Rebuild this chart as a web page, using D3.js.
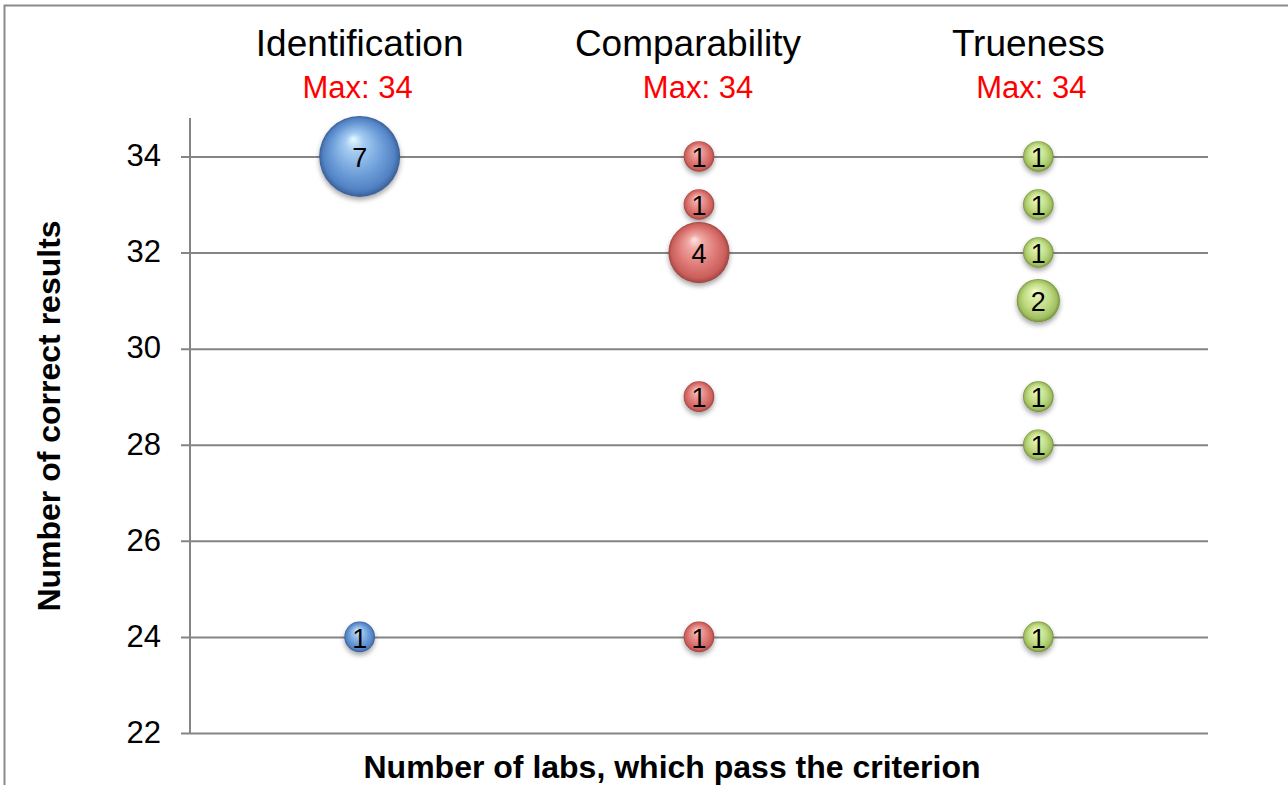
<!DOCTYPE html>
<html>
<head>
<meta charset="utf-8">
<script src="https://cdn.jsdelivr.net/npm/d3@7"></script>
<style>
  body { margin: 0; background: #fff; }
  text { font-family: "Liberation Sans", Arial, sans-serif; }
</style>
</head>
<body>
<script>
// data
const categories = ['Identification', 'Comparability', 'Trueness'];
const maxLabels = ['Max: 34', 'Max: 34', 'Max: 34'];
const identResults = [34, 24];
const identLabs = [7, 1];
const compResults = [34, 33, 32, 29, 24];
const compLabs = [1, 1, 4, 1, 1];
const trueResults = [34, 33, 32, 31, 29, 28, 24];
const trueLabs = [1, 1, 1, 2, 1, 1, 1];
const yTicks = [22, 24, 26, 28, 30, 32, 34];

// setup svg
let width = 1288, height = 785;
let svg = d3.select('body').append('svg').attr('width', width).attr('height', height);

// frame of the chart area
svg.append('rect').attr('x', 4.5).attr('y', 5.5).attr('width', 1300).attr('height', 800)
  .attr('fill', 'none').attr('stroke', '#8a8a8a').attr('stroke-width', 2);

// scales
let x = d3.scaleLinear().domain([0.5, 3.5]).range([190, 1208]);
let y = d3.scaleLinear().domain([22, 34.8]).range([733, 118]);
let r = d3.scaleSqrt().domain([0, 7]).range([0, 40.5]);

// gradients + shadow
let defs = svg.append('defs');
let palettes = [
  ['#e6fbff', '#a6cdf2', '#6f9fd9', '#5282c4', '#3a5e96'],
  ['#fde8e5', '#f0aaa6', '#de7a76', '#ca5f5b', '#9e4541'],
  ['#f8ffe0', '#dcf0ab', '#bfda82', '#a0bf60', '#738f3c']
];
let offsets = ['0%', '22%', '62%', '88%', '100%'];
palettes.forEach((p, i) => {
  let g = defs.append('radialGradient').attr('id', 'grad' + i)
    .attr('cx', '50%').attr('cy', '50%').attr('r', '50%').attr('fx', '42%').attr('fy', '28%');
  p.forEach((c, j) => g.append('stop').attr('offset', offsets[j]).attr('stop-color', c));
});
let f = defs.append('filter').attr('id', 'shadow').attr('x', '-30%').attr('y', '-30%').attr('width', '160%').attr('height', '170%');
f.append('feDropShadow').attr('dx', 0).attr('dy', 3).attr('stdDeviation', 2.5)
  .attr('flood-color', '#000').attr('flood-opacity', 0.35);

// y axis with gridlines
let yAxis = d3.axisLeft(y).tickValues(yTicks).tickSize(-(1208 - 181)).tickPadding(0).tickFormat(d3.format('d'));
let gy = svg.append('g').attr('transform', 'translate(181,0)').call(yAxis);
gy.select('.domain').remove();
gy.selectAll('.tick line').attr('stroke', '#858585').attr('stroke-width', 2);
gy.selectAll('.tick text').attr('x', -20).attr('dy', '0.3em').attr('font-size', 31).attr('fill', '#000');
svg.append('line').attr('x1', 190).attr('x2', 190).attr('y1', 118).attr('y2', 733)
  .attr('stroke', '#858585').attr('stroke-width', 2);

// category headers (small nudges to match the placed text boxes)
let titleNudge = [0, -11, -10], maxNudge = [-2, -1, -7];
categories.forEach((c, i) => {
  svg.append('text').attr('x', x(i + 1) + titleNudge[i]).attr('y', 56).attr('text-anchor', 'middle')
    .attr('font-size', 37).attr('fill', '#000').text(c);
  svg.append('text').attr('x', x(i + 1) + maxNudge[i]).attr('y', 98).attr('text-anchor', 'middle')
    .attr('font-size', 31).attr('fill', '#ff0000').text(maxLabels[i]);
});

// bubbles
let series = [
  {results: identResults, labs: identLabs},
  {results: compResults, labs: compLabs},
  {results: trueResults, labs: trueLabs}
];
series.forEach((s, i) => {
  let pts = s.results.map((v, j) => ({v: v, n: s.labs[j]}));
  let g = svg.append('g');
  g.selectAll('circle').data(pts).join('circle')
    .attr('cx', x(i + 1)).attr('cy', d => y(d.v)).attr('r', d => r(d.n))
    .attr('fill', 'url(#grad' + i + ')').attr('filter', 'url(#shadow)');
  g.selectAll('text').data(pts).join('text')
    .attr('x', x(i + 1)).attr('y', d => y(d.v) + 1).attr('dy', '0.36em').attr('text-anchor', 'middle')
    .attr('font-size', 27).attr('fill', '#000').text(d => d.n);
});

// axis titles
svg.append('text').attr('x', 672).attr('y', 778).attr('text-anchor', 'middle')
  .attr('font-size', 32).attr('font-weight', 'bold').attr('fill', '#000')
  .text('Number of labs, which pass the criterion');
svg.append('text').attr('transform', 'translate(60,416) rotate(-90)').attr('text-anchor', 'middle')
  .attr('font-size', 32).attr('font-weight', 'bold').attr('fill', '#000')
  .text('Number of correct results');
</script>
</body>
</html>
